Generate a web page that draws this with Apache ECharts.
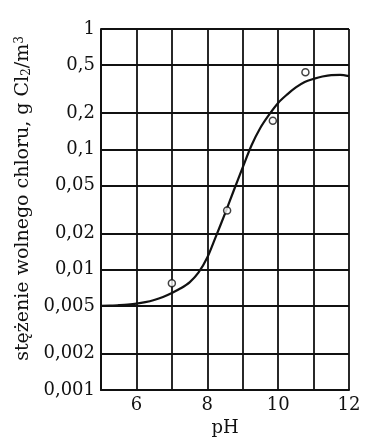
<!DOCTYPE html>
<html>
<head>
<meta charset="utf-8">
<script src="https://cdn.jsdelivr.net/npm/echarts@6/dist/echarts.min.js"></script>
<style>html,body{margin:0;padding:0;background:#fff}#c{width:379px;height:445px}</style>
</head>
<body>
<div id="c"></div>
<script>
const xTicks = [5, 6, 7, 8, 9, 10, 11, 12];
const yTicks = [0.001, 0.002, 0.005, 0.01, 0.02, 0.05, 0.1, 0.2, 0.5, 1];
const curveX = [5, 5.25, 5.5, 5.75, 6, 6.25, 6.5, 6.75, 7, 7.25, 7.5, 7.75, 8, 8.25, 8.5, 8.75,
  9, 9.25, 9.5, 9.75, 10, 10.25, 10.5, 10.75, 11, 11.25, 11.5, 11.75, 12];
const curveY = [0.0050, 0.00502, 0.00507, 0.00513, 0.00522, 0.00537, 0.0056, 0.00593, 0.0064, 0.0070,
  0.00785, 0.00944, 0.0126, 0.0191, 0.0292, 0.0457, 0.0708, 0.108, 0.151, 0.195, 0.243, 0.285,
  0.327, 0.363, 0.385, 0.403, 0.414, 0.415, 0.406];
const pointX = [7.0, 8.56, 9.85, 10.77];
const pointY = [0.0077, 0.031, 0.173, 0.437];

const FONT = 'DejaVu Serif';
const INK = '#111';
const chart = echarts.init(document.getElementById('c'), null, {renderer: 'canvas'});
const fmtY = v => String(v).replace('.', ',');
chart.setOption({
  animation: false,
  backgroundColor: '#fff',
  grid: {left: 101, right: 30, top: 29, bottom: 55, containLabel: false},
  xAxis: {
    type: 'value', min: 5, max: 12, interval: 1,
    name: 'pH', nameLocation: 'middle', nameGap: 26,
    nameTextStyle: {fontFamily: FONT, fontSize: 18, color: INK},
    axisLine: {show: true, lineStyle: {color: INK, width: 2}},
    axisTick: {show: false},
    axisLabel: {fontFamily: FONT, fontSize: 18, color: INK, margin: 6,
      formatter: v => (v % 2 === 0 ? String(v) : '')},
    splitLine: {show: true, lineStyle: {color: INK, width: 1.8}}
  },
  yAxis: {
    type: 'log', logBase: 10, min: 0.001, max: 1,
    name: 'stężenie wolnego chloru, g Cl{sub|2}/m{sup|3}',
    nameLocation: 'middle', nameGap: 66,
    nameTextStyle: {fontFamily: FONT, fontSize: 19, color: INK, padding: [0, 0, 0, 22],
      rich: {
        sub: {fontFamily: FONT, fontSize: 12, color: INK, verticalAlign: 'bottom'},
        sup: {fontFamily: FONT, fontSize: 12, color: INK, verticalAlign: 'top'}
      }},
    axisLine: {show: true, lineStyle: {color: INK, width: 2}},
    axisTick: {show: false, customValues: yTicks},
    axisLabel: {fontFamily: FONT, fontSize: 18, color: INK, margin: 6, customValues: yTicks,
      formatter: fmtY},
    splitLine: {show: true, lineStyle: {color: INK, width: 1.8}}
  },
  series: [
    {
      type: 'line', smooth: 0.3, symbol: 'none',
      data: curveX.map((x, i) => [x, curveY[i]]),
      lineStyle: {color: INK, width: 2.2}, z: 3
    },
    {
      type: 'scatter', symbol: 'circle', symbolSize: 7,
      data: pointX.map((x, i) => [x, pointY[i]]),
      itemStyle: {color: '#fff', borderColor: INK, borderWidth: 1.5}, z: 4
    }
  ]
});
</script>
</body>
</html>
